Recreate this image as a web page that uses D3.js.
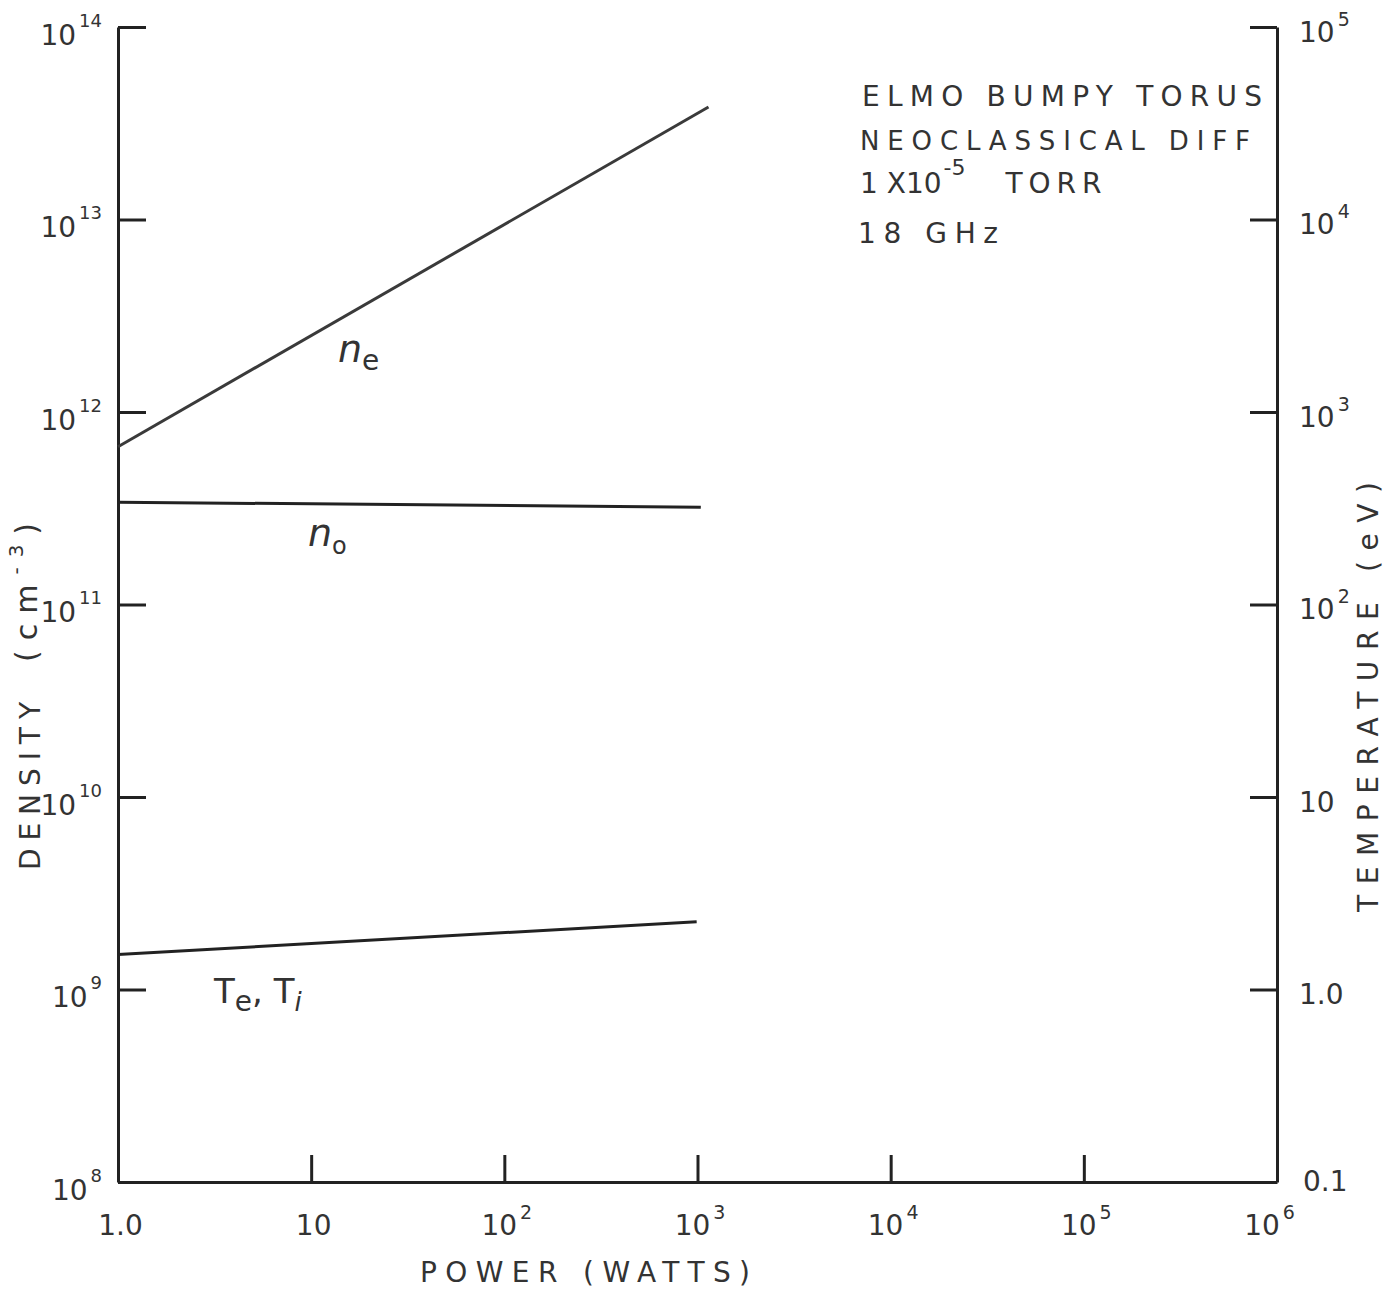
<!DOCTYPE html>
<html>
<head>
<meta charset="utf-8">
<script src="https://cdn.jsdelivr.net/npm/d3@7"></script>
<style>
  body { margin: 0; background: #fff; }
  svg { display: block; }
  text { font-family: "DejaVu Sans", sans-serif; fill: #333; }
</style>
</head>
<body>
<script>
const width = 1398
const height = 1295

// data
const powerTicks = [1, 10, 100, 1e3, 1e4, 1e5, 1e6]
const powerLabels = [["1.0", ""], ["10", ""], ["10", "2"], ["10", "3"], ["10", "4"], ["10", "5"], ["10", "6"]]
const densityTicks = [1e8, 1e9, 1e10, 1e11, 1e12, 1e13, 1e14]
const densityLabels = [["10", "8"], ["10", "9"], ["10", "10"], ["10", "11"], ["10", "12"], ["10", "13"], ["10", "14"]]
const tempTicks = [0.1, 1, 10, 100, 1e3, 1e4, 1e5]
const tempLabels = [["0.1", ""], ["1.0", ""], ["10", ""], ["10", "2"], ["10", "3"], ["10", "4"], ["10", "5"]]

const nePower = [1, 1140]
const neDensity = [6.6e11, 3.84e13]
const n0Power = [1, 1040]
const n0Density = [3.4e11, 3.2e11]
const tPower = [1, 990]
const tTemp = [1.52, 2.25]

const notes = ["ELMO   BUMPY   TORUS", "NEOCLASSICAL   DIFF", "18  GHz"]

const margin = {top: 27, right: 121, bottom: 113, left: 118}
const w = width - margin.left - margin.right
const h = height - margin.top - margin.bottom

const x = d3.scaleLog().domain([1, 1e6]).range([0, w])
const yD = d3.scaleLog().domain([1e8, 1e14]).range([h, 0])
const yT = d3.scaleLog().domain([0.1, 1e5]).range([h, 0])

const svg = d3.select('body').append('svg')
  .attr('width', width)
  .attr('height', height)

const g = svg.append('g')
  .attr('transform', `translate(${margin.left},${margin.top})`)

// tick text with a raised exponent
function supLabel(sel, labels, supSize, rise) {
  sel.each(function(d, i) {
    const t = d3.select(this).text('').style('font-size', '28px')
    const l = labels[i]
    t.append('tspan').text(l[0])
    if (l[1]) t.append('tspan').text(l[1]).attr('dy', -rise).attr('dx', 3).style('font-size', supSize + 'px')
  })
}

function styleAxis(a) {
  a.select('.domain').attr('stroke', '#222').attr('stroke-width', 3)
  a.selectAll('.tick line').attr('stroke', '#222').attr('stroke-width', 3)
  a.selectAll('.tick text').attr('fill', '#333')
}

// bottom axis
const xAxis = g.append('g')
  .attr('transform', `translate(0,${h})`)
  .call(d3.axisBottom(x).tickValues(powerTicks).tickSize(-27).tickSizeOuter(0).tickPadding(40))
styleAxis(xAxis)
xAxis.selectAll('.tick text').call(supLabel, powerLabels, 19, 16)
  .attr('dy', '0.45em').attr('dx', (d, i) => i === powerTicks.length - 1 ? -8 : 2)

// left axis
const yAxisL = g.append('g')
  .call(d3.axisLeft(yD).tickValues(densityTicks).tickSize(-28).tickSizeOuter(0).tickPadding(16))
styleAxis(yAxisL)
yAxisL.selectAll('.tick text').call(supLabel, densityLabels, 18, 18)
  .attr('dy', '0.62em')

// right axis
const yAxisR = g.append('g')
  .attr('transform', `translate(${w},0)`)
  .call(d3.axisRight(yT).tickValues(tempTicks).tickSize(-27).tickSizeOuter(0).tickPadding(22))
styleAxis(yAxisR)
yAxisR.selectAll('.tick text').call(supLabel, tempLabels, 19, 16)
  .attr('dy', (d, i) => i === 0 ? '0.3em' : '0.5em')
  .attr('dx', (d, i) => i === 0 ? 4 : 0)

// lines
const lineD = d3.line().x(d => x(d[0])).y(d => yD(d[1]))
const lineT = d3.line().x(d => x(d[0])).y(d => yT(d[1]))

g.append('path').datum(d3.zip(nePower, neDensity))
  .attr('d', lineD).attr('fill', 'none').attr('stroke', '#3a3a3a').attr('stroke-width', 3)
g.append('path').datum(d3.zip(n0Power, n0Density))
  .attr('d', lineD).attr('fill', 'none').attr('stroke', '#222').attr('stroke-width', 3)
g.append('path').datum(d3.zip(tPower, tTemp))
  .attr('d', lineT).attr('fill', 'none').attr('stroke', '#222').attr('stroke-width', 3)

// curve labels
const ne = svg.append('text').attr('x', 338).attr('y', 362).style('font-size', '38px').style('font-style', 'italic')
ne.append('tspan').text('n')
ne.append('tspan').text('e').attr('dy', 8).style('font-size', '28px').style('font-style', 'normal')

const n0 = svg.append('text').attr('x', 308).attr('y', 546).style('font-size', '38px').style('font-style', 'italic')
n0.append('tspan').text('n')
n0.append('tspan').text('o').attr('dy', 8).style('font-size', '24px').style('font-style', 'normal')

const te = svg.append('text').attr('x', 214).attr('y', 1003).style('font-size', '34px')
te.append('tspan').text('T')
te.append('tspan').text('e').attr('dy', 8).style('font-size', '28px')
te.append('tspan').text(',  T').attr('dy', -8)
te.append('tspan').text('i').attr('dy', 8).style('font-size', '26px').style('font-style', 'italic')

// notes
svg.append('text').attr('x', 862).attr('y', 106).text(notes[0])
  .style('font-size', '28px').attr('textLength', 400).attr('lengthAdjust', 'spacing')
svg.append('text').attr('x', 860).attr('y', 150).text(notes[1])
  .style('font-size', '26px').attr('textLength', 390).attr('lengthAdjust', 'spacing')
const torr = svg.append('text').attr('x', 860).attr('y', 193).style('font-size', '28px')
torr.append('tspan').text('1 X10')
torr.append('tspan').text('-5').attr('dy', -18).attr('dx', 2).style('font-size', '22px')
torr.append('tspan').text('TORR').attr('dy', 18).attr('dx', 40).style('letter-spacing', '6px')
svg.append('text').attr('x', 858).attr('y', 243).text(notes[2])
  .style('font-size', '28px').attr('textLength', 140).attr('lengthAdjust', 'spacing')

// axis titles
svg.append('text').attr('x', 420).attr('y', 1282).text('POWER  (WATTS)')
  .style('font-size', '28px').attr('textLength', 330).attr('lengthAdjust', 'spacing')

svg.append('text')
  .attr('transform', 'translate(40,870) rotate(-90)')
  .text('DENSITY')
  .style('font-size', '28px').attr('textLength', 168).attr('lengthAdjust', 'spacing')
const cm = svg.append('text')
  .attr('transform', 'translate(37,662) rotate(-90)')
  .style('font-size', '30px').style('letter-spacing', '10px')
cm.append('tspan').text('(cm')
cm.append('tspan').text('-3').attr('dy', -14).style('font-size', '20px')
cm.append('tspan').text(')').attr('dy', 14)

svg.append('text')
  .attr('transform', 'translate(1378,912) rotate(-90)')
  .text('TEMPERATURE   (eV)')
  .style('font-size', '28px').attr('textLength', 430).attr('lengthAdjust', 'spacing')
</script>
</body>
</html>
